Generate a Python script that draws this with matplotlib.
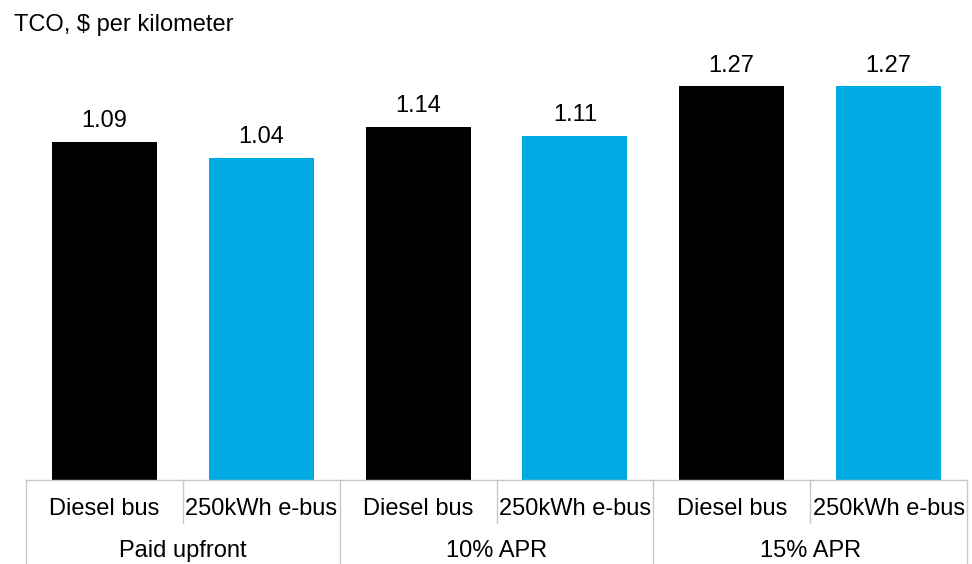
import matplotlib
matplotlib.use("Agg")
import matplotlib.pyplot as plt
import matplotlib.transforms as mtransforms
import numpy as np

plt.rcParams["font.family"] = ["Liberation Sans", "DejaVu Sans"]

groups = ["Paid upfront", "10% APR", "15% APR"]
bus_types = ["Diesel bus", "250kWh e-bus"]
diesel = [1.09, 1.14, 1.27]
ebus = [1.04, 1.11, 1.27]

black = "#000000"
cyan = "#00AAE2"
line_gray = "#C8C8C8"

W, H = 972, 564
fig = plt.figure(figsize=(W / 100, H / 100), dpi=100)
left, right = 26 / W, 967 / W
bottom, top = (H - 480) / H, (H - 40) / H
ax = fig.add_axes([left, bottom, right - left, top - bottom])

values = []
colors = []
labels = []
for d, e in zip(diesel, ebus):
    values += [d, e]
    colors += [black, cyan]
    labels += bus_types
x = np.arange(len(values))

fs = 17
bars = ax.bar(x, values, width=0.67, color=colors)
for xi, v in zip(x, values):
    ax.annotate(f"{v:.2f}", (xi, v), xytext=(0, 7), textcoords="offset points",
                ha="center", va="bottom", fontsize=fs)

ax.set_xlim(-0.5, len(values) - 0.5)
ax.set_ylim(0, 440 / 310)
ax.set_xticks([])
ax.set_yticks([])
for s in ["top", "left", "right"]:
    ax.spines[s].set_visible(False)
ax.spines["bottom"].set_color(line_gray)
ax.spines["bottom"].set_linewidth(1)

# category table under the axis
trans = mtransforms.blended_transform_factory(ax.transData, ax.transAxes)
row1 = -43 / 440
row2 = -84 / 440
for i in range(len(values) + 1):
    xp = i - 0.5
    y_end = row2 if i % 2 == 0 else row1
    ax.plot([xp, xp], [0, y_end], transform=trans, color=line_gray, lw=1, clip_on=False)

for xi, lab in zip(x, labels):
    ax.text(xi, -29 / 440, lab, transform=trans, ha="center", va="center", fontsize=fs)
for gi, g in enumerate(groups):
    ax.text(2 * gi + 0.5, -71 / 440, g, transform=trans, ha="center", va="center", fontsize=fs)

fig.text(14 / W, 1 - 25 / H, "TCO, $ per kilometer", ha="left", va="center", fontsize=fs)

fig.savefig("out.png", dpi=100)
